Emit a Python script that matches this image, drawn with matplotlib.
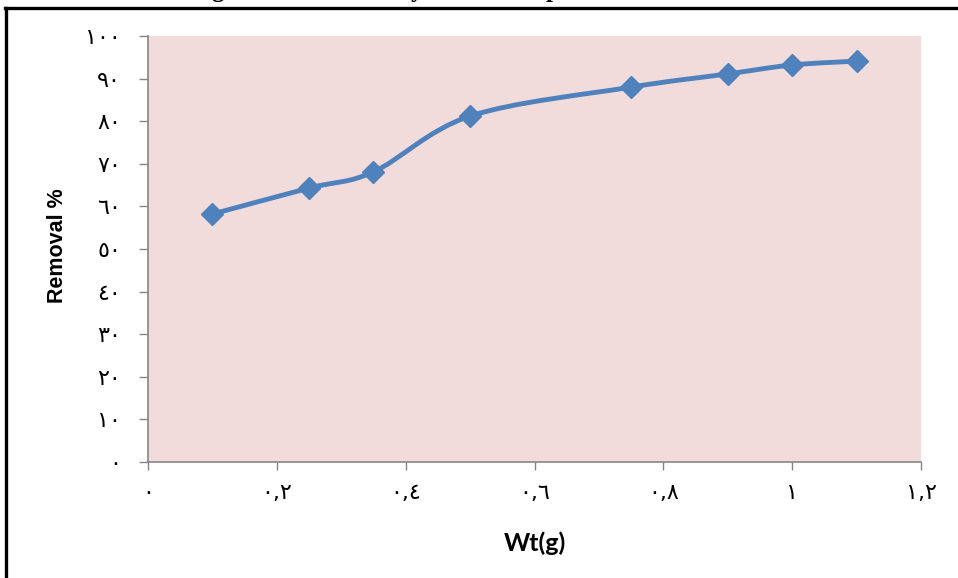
import matplotlib
matplotlib.use("Agg")
import matplotlib.pyplot as plt
from matplotlib.path import Path
from matplotlib.patches import PathPatch
from matplotlib.lines import Line2D

# data
wt = [0.1, 0.25, 0.35, 0.5, 0.75, 0.9, 1.0, 1.1]
removal = [58.2, 64.3, 68.1, 81.2, 88.0, 91.1, 93.2, 94.1]

x_ticks = [0, 0.2, 0.4, 0.6, 0.8, 1.0, 1.2]
x_labels = ["٠", "٠,٢", "٠,٤", "٠,٦", "٠,٨", "١", "١,٢"]
y_ticks = [0, 10, 20, 30, 40, 50, 60, 70, 80, 90, 100]
y_labels = ["٠", "١٠", "٢٠", "٣٠", "٤٠", "٥٠", "٦٠", "٧٠", "٨٠", "٩٠", "١٠٠"]

blue = "#4F81BD"
grey = "#868686"


def smooth_path(xs, ys):
    # excel-like smoothed line: catmull-rom turned into bezier pieces
    pts = list(zip(xs, ys))
    n = len(pts)
    verts = [pts[0]]
    codes = [Path.MOVETO]
    for i in range(n - 1):
        p0 = pts[i - 1] if i > 0 else pts[i]
        p1 = pts[i]
        p2 = pts[i + 1]
        p3 = pts[i + 2] if i + 2 < n else pts[i + 1]
        c1 = (p1[0] + (p2[0] - p0[0]) / 6, p1[1] + (p2[1] - p0[1]) / 6)
        c2 = (p2[0] - (p3[0] - p1[0]) / 6, p2[1] - (p3[1] - p1[1]) / 6)
        verts += [c1, c2, p2]
        codes += [Path.CURVE4] * 3
    return Path(verts, codes)


fig = plt.figure(figsize=(9.58, 5.78), dpi=100)
ax = fig.add_axes([148 / 958, 1 - 462 / 578, 773 / 958, 426 / 578])
ax.set_facecolor("#F2DCDB")

ax.add_patch(PathPatch(smooth_path(wt, removal), facecolor="none",
                       edgecolor=blue, lw=3.5, capstyle="round", zorder=3))
ax.plot(wt, removal, ls="none", marker="D", ms=11, color=blue, zorder=4)

ax.set_xlim(0, 1.2)
ax.set_ylim(0, 100)
ax.set_xticks(x_ticks)
ax.set_xticklabels(x_labels, family="DejaVu Sans", fontsize=16)
ax.set_yticks(y_ticks)
ax.set_yticklabels(y_labels, family="DejaVu Sans", fontsize=16)
ax.tick_params(axis="x", length=6, width=1, color=grey, pad=9)
ax.tick_params(axis="y", length=6.5, width=1, color=grey, pad=13)

for s in ["top", "right"]:
    ax.spines[s].set_visible(False)
for s in ["left", "bottom"]:
    ax.spines[s].set_color(grey)
    ax.spines[s].set_linewidth(1.2)

ax.set_xlabel("Wt(g)", family="Lato", fontweight="bold", fontsize=18)
ax.xaxis.set_label_coords(0.5006, -0.162)
ax.set_ylabel("Removal %", family="Liberation Sans", fontweight="bold", fontsize=15.5)
ax.yaxis.set_label_coords(-0.103, 0.509)

# frame round the chart (only left and top edges are in view)
fig.add_artist(Line2D([5.5 / 958, 5.5 / 958], [0, 1 - 8 / 578],
                      transform=fig.transFigure, color="black", lw=2.4))
fig.add_artist(Line2D([4.5 / 958, 1], [1 - 7.5 / 578, 1 - 7.5 / 578],
                      transform=fig.transFigure, color="black", lw=2.4))

# the title sits above the picture; only some descenders show
for ch, px in [("g", 218), ("y", 417), ("p", 553)]:
    fig.text(px / 958, 1 + 3 / 578, ch, family="Liberation Serif",
             fontweight="bold", fontsize=18, ha="center", va="baseline")

fig.savefig("out.png", dpi=100)
